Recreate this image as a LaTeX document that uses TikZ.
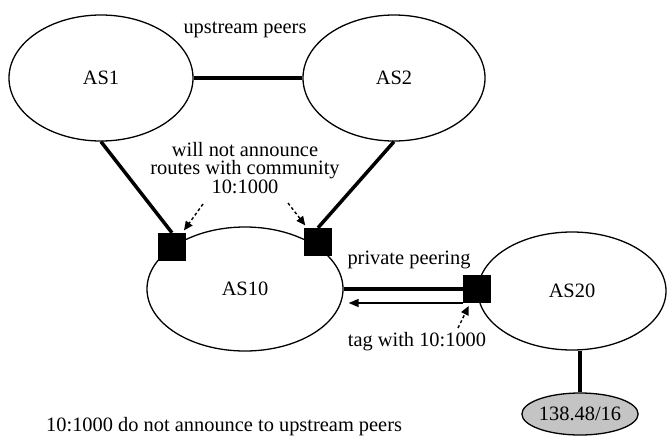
\documentclass[tikz,border=0pt]{standalone}
\usepackage{fontspec}
\setmainfont{Liberation Serif}
\usetikzlibrary{shapes.geometric,arrows.meta}
\definecolor{prefix}{HTML}{C4C4C4}
\tikzset{
  asys/.style={ellipse, draw, line width=1.3pt, inner sep=0pt},
  router/.style={rectangle, fill=black, minimum size=28pt, inner sep=0pt},
  link/.style={draw, line width=3.5pt},
  flow/.style={draw, line width=1.6pt, -{Triangle[length=10pt,width=8pt]}},
  hint/.style={draw, line width=1.4pt, dash pattern=on 3pt off 2.5pt,
    -{Triangle[length=9pt,width=8pt]}, shorten >=3pt},
  lab/.style={inner sep=0pt},
  every node/.style={font=\fontsize{20.4}{18.5}\selectfont}
}

\begin{document}
\begin{tikzpicture}[x=1pt,y=-1pt]
  \useasboundingbox (0,0) rectangle (667,437);

  \node[asys, minimum width=184pt, minimum height=126pt] (AS1) at (101,78) {AS1};
  \node[asys, minimum width=182pt, minimum height=126pt] (AS2) at (394,78) {AS2};
  \node[asys, minimum width=196pt, minimum height=124pt] (AS10) at (245,289) {AS10};
  \node[asys, minimum width=188pt, minimum height=118pt] (AS20) at (572,291) {AS20};
  \node[asys, fill=prefix, minimum width=106pt, minimum height=42pt] (pfx) at (580,414) {138.48/16};

  \node[router] (r1) at (172,247) {};
  \node[router] (r2) at (318,242) {};
  \node[router] (r3) at (477,289) {};

  \draw[link] (AS1.east) -- (AS2.west);
  \draw[link] (AS1.south) -- (r1.north);
  \draw[link] (AS2.south) -- (r2.north);
  \draw[link] (AS10.east) -- (r3.west);
  \draw[link] (pfx.north) -- (pfx.north |- AS20.south);

  \coordinate (back) at ([yshift=-14pt]r3.west);
  \coordinate (into) at ([xshift=5pt]AS10.east |- back);
  \draw[flow] (back) -- (into);

  \node[lab] (upeers) at (245,30) {upstream peers};
  \node[lab, align=center] (warn) at (245,168) {will not announce\\routes with community\\10:1000};
  \node[lab] (priv) at (409,260) {private peering};
  \node[lab] (tag) at (417,342) {tag with 10:1000};
  \node[lab, anchor=west] (legend) at (46,427) {10:1000 do not announce to upstream peers};

  \coordinate (w1) at (203,204);
  \coordinate (w2) at (288,203);
  \coordinate (t1) at (458,328);
  \draw[hint] (w1) -- (r1);
  \draw[hint] (w2) -- (r2);
  \draw[hint] (t1) -- (r3);
\end{tikzpicture}
\end{document}
